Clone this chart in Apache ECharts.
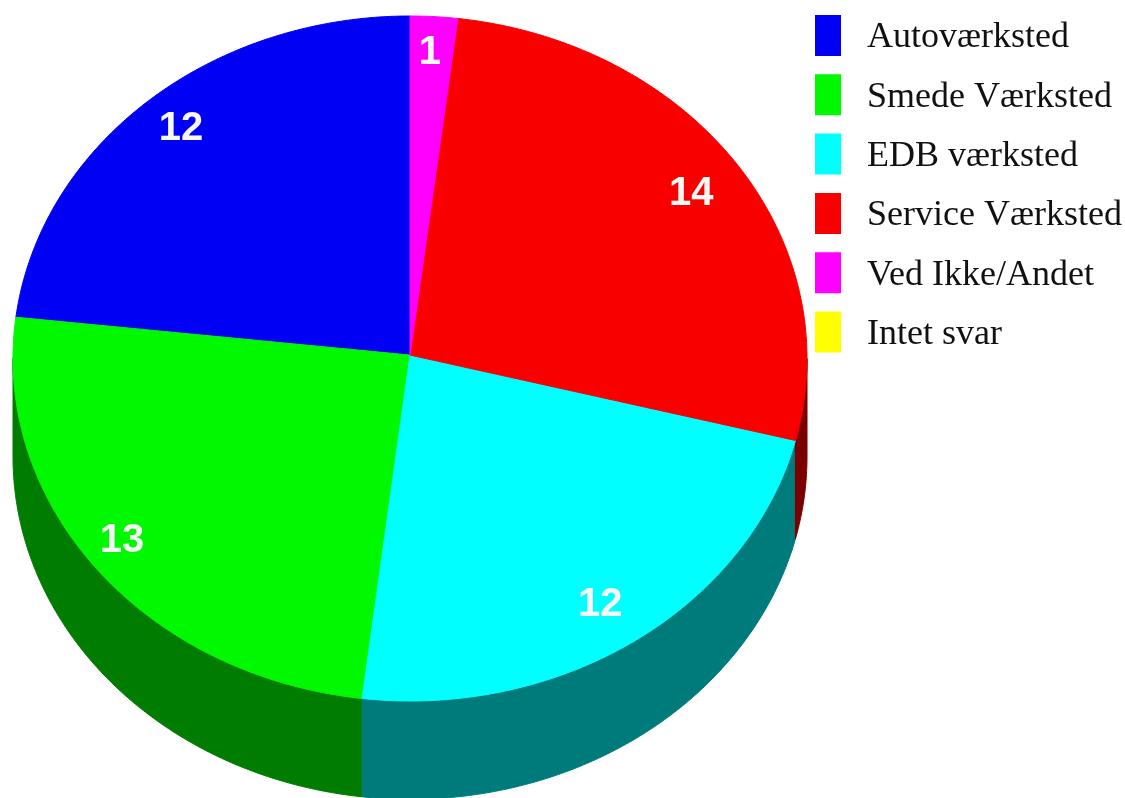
<!DOCTYPE html>
<html>
<head>
<meta charset="utf-8">
<style>html,body{margin:0;padding:0;background:#fff}#c{width:1125px;height:798px}</style>
<script src="https://cdn.jsdelivr.net/npm/echarts@6/dist/echarts.min.js"></script>
</head>
<body>
<div id="c"></div>
<script>
const categories = ['Autoværksted', 'Smede Værksted', 'EDB værksted', 'Service Værksted', 'Ved Ikke/Andet', 'Intet svar'];
const values = [12, 13, 12, 14, 1, 0];
const topColors = ['#0000f5', '#00f800', '#00ffff', '#f80000', '#ff00ff', '#ffff00'];
const sideColors = ['#00007b', '#007c00', '#007b7b', '#7b0000', '#7b007b', '#7b7b00'];
const labelNudge = [[0, -6], [-16, -1], [-6, 1], [-3, 5], [-1, -8], [0, 0]];

const DEPTH = 0.287;
const LABEL_RADIUS = 0.87;
const APEX = [0, 0.01];
const total = values.reduce((a, b) => a + b, 0);

function rimPoint(deg) {
  const r = deg * Math.PI / 180;
  return [-Math.sin(r), Math.cos(r)];
}
function arc(from, to) {
  const pts = [];
  const n = Math.max(2, Math.ceil(Math.abs(to - from) / 0.5));
  for (let i = 0; i <= n; i++) pts.push(rimPoint(from + (to - from) * i / n));
  return pts;
}

let running = 0;
const series = categories.map((name, idx) => {
  const start = running / total * 360;
  running += values[idx];
  const end = running / total * 360;
  return {
    type: 'custom',
    name,
    coordinateSystem: 'cartesian2d',
    clip: false,
    silent: true,
    animation: false,
    itemStyle: { color: topColors[idx] },
    data: [[start, end, values[idx]]],
    renderItem(params, api) {
      const a = api.value(0), b = api.value(1), v = api.value(2);
      const children = [];
      if (v <= 0) return { type: 'group', children };
      const wa = Math.max(a, 90), wb = Math.min(b, 270);
      if (wb > wa) {
        const upper = arc(wa, wb);
        const lower = upper.slice().reverse().map(p => [p[0], p[1] - DEPTH]);
        children.push({
          type: 'polygon',
          z2: 1,
          shape: { points: upper.concat(lower).map(p => api.coord(p)) },
          style: { fill: sideColors[idx], stroke: sideColors[idx], lineWidth: 1 }
        });
      }
      const pts = [APEX].concat(arc(a, b));
      children.push({
        type: 'polygon',
        z2: 2,
        shape: { points: pts.map(p => api.coord(p)) },
        style: { fill: topColors[idx], stroke: topColors[idx], lineWidth: 1 }
      });
      const m = rimPoint((a + b) / 2);
      const at = api.coord([m[0] * LABEL_RADIUS, m[1] * LABEL_RADIUS]);
      children.push({
        type: 'text',
        z2: 3,
        x: at[0] + labelNudge[idx][0],
        y: at[1] + labelNudge[idx][1],
        style: {
          text: String(v),
          fill: '#f6f8f6',
          font: 'bold 40px "Liberation Sans", Arial, sans-serif',
          align: 'center',
          verticalAlign: 'middle'
        }
      });
      return { type: 'group', children };
    }
  };
});

const chart = echarts.init(document.getElementById('c'), null, { renderer: 'canvas' });
chart.setOption({
  animation: false,
  backgroundColor: '#ffffff',
  grid: { left: 13, top: 16, width: 794, height: 753.5, containLabel: false },
  xAxis: { type: 'value', min: -1, max: 1, show: false },
  yAxis: { type: 'value', min: -1.2, max: 1, show: false },
  legend: {
    orient: 'vertical',
    left: 815,
    top: 15,
    padding: 0,
    icon: 'rect',
    itemWidth: 26,
    itemHeight: 41,
    itemGap: 18.3,
    selectedMode: false,
    data: categories,
    formatter: '{t|{name}}',
    textStyle: {
      color: '#111',
      fontFamily: '"Liberation Serif", serif',
      fontSize: 36,
      rich: {
        t: {
          color: '#111',
          fontFamily: '"Liberation Serif", serif',
          fontSize: 36,
          lineHeight: 36,
          padding: [5, 0, 0, 21]
        }
      }
    }
  },
  series
});
</script>
</body>
</html>
